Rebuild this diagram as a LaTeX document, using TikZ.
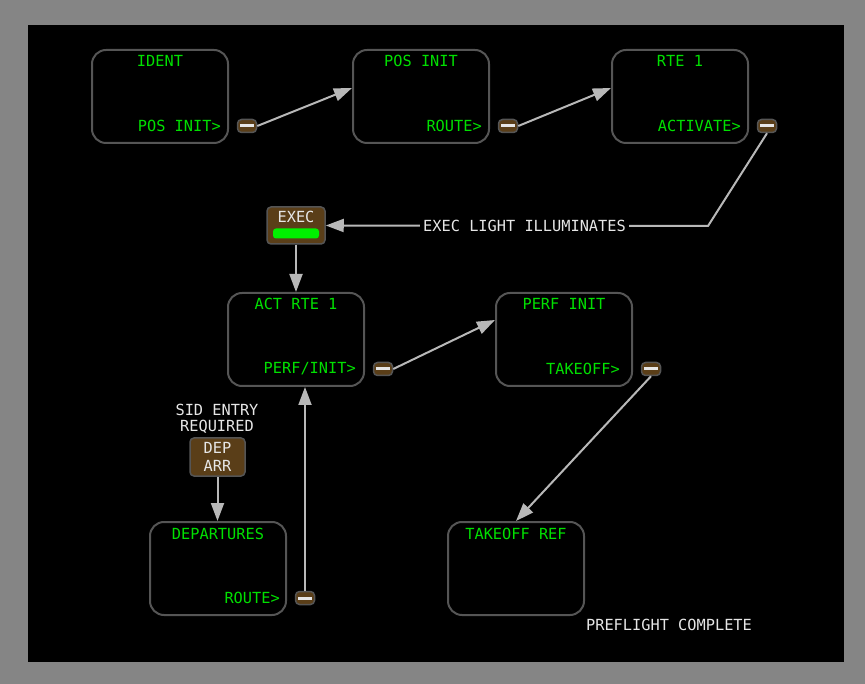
\documentclass[tikz,border=0pt]{standalone}
\usepackage{fontspec}
\setmonofont{DejaVu Sans Mono}
\usetikzlibrary{arrows.meta, positioning, calc}
\definecolor{cduGreen}{HTML}{00E000}
\definecolor{cduBrown}{HTML}{5A3E18}
\definecolor{cduFrame}{HTML}{555555}
\definecolor{cduLine}{HTML}{B8B8B8}
\definecolor{cduText}{HTML}{E6E6E6}
\definecolor{cduLamp}{HTML}{00F000}
\definecolor{bezel}{HTML}{858585}

\begin{document}
\begin{tikzpicture}[x=1pt, y=-1pt,
  page/.style={rectangle, draw=cduFrame, line width=2pt, rounded corners=14pt, minimum width=136pt, minimum height=93pt, inner sep=0pt},
  title/.style={text=cduGreen, font=\fontsize{15.3}{16}\selectfont\ttfamily, inner sep=0pt},
  prompt/.style={title, anchor=east},
  lsk/.style={rectangle, draw=cduFrame, fill=cduBrown, line width=1.5pt, rounded corners=4pt, minimum width=19pt, minimum height=13pt, inner sep=0pt, text=cduText},
  key/.style={rectangle, draw=cduFrame, fill=cduBrown, line width=1.5pt, rounded corners=4pt, inner sep=0pt},
  note/.style={text=cduText, font=\fontsize{15.3}{16}\selectfont\ttfamily, align=center, inner sep=0pt},
  link/.style={draw=cduLine, line width=2pt, -{Triangle[length=18pt, width=13pt]}}]

  % bezel and screen
  \fill[bezel] (0,0) rectangle (865,684);
  \fill[black] (28,25) rectangle (844,662);

  % IDENT
  \node[page] (ident) at (160,96.5) {};
  \node[title] (ident-t) at (160,61) {IDENT};
  \node[prompt] (ident-k) at (221,126) {POS INIT>};
  \node[lsk] (ident-b) at (247,126) {\rule{14pt}{3pt}};

  % POS INIT
  \node[page] (posinit) at (421,96.5) {};
  \node[title] (posinit-t) at (421,61) {POS INIT};
  \node[prompt] (posinit-k) at (482,126) {ROUTE>};
  \node[lsk] (posinit-b) at (508,126) {\rule{14pt}{3pt}};

  % RTE 1
  \node[page] (rte) at (680,96.5) {};
  \node[title] (rte-t) at (680,61) {RTE 1};
  \node[prompt] (rte-k) at (741,126) {ACTIVATE>};
  \node[lsk] (rte-b) at (767,126) {\rule{14pt}{3pt}};

  % EXEC key
  \node[key, minimum width=58pt, minimum height=37pt] (exec) at (296,225.5) {};
  \node[note] (exec-t) at (296,217) {EXEC};
  \node[rectangle, fill=cduLamp, rounded corners=3pt, minimum width=46pt, minimum height=10pt, inner sep=0pt] (exec-lamp) at (296,233.5) {};

  % ACT RTE 1
  \node[page] (actrte) at (296,339.5) {};
  \node[title] (actrte-t) at (296,304) {ACT RTE 1};
  \node[prompt] (actrte-k) at (356,369) {PERF/INIT>};
  \node[lsk] (actrte-b) at (383,369) {\rule{14pt}{3pt}};

  % PERF INIT
  \node[page] (perf) at (564,339.5) {};
  \node[title] (perf-t) at (564,304) {PERF INIT};
  \node[prompt] (perf-k) at (620,369) {TAKEOFF>};
  \node[lsk] (perf-b) at (651,369) {\rule{14pt}{3pt}};

  % DEP ARR key
  \node[note] (sidnote) at (217,419) {SID ENTRY\\REQUIRED};
  \node[key, minimum width=55pt, minimum height=38pt, text=cduText, align=center, font=\fontsize{15.3}{18}\selectfont\ttfamily] (deparr) at (217.5,457) {DEP\\ARR};

  % DEPARTURES
  \node[page] (dep) at (218,568.5) {};
  \node[title] (dep-t) at (218,534) {DEPARTURES};
  \node[prompt] (dep-k) at (280,598) {ROUTE>};
  \node[lsk] (dep-b) at (305,598) {\rule{14pt}{3pt}};

  % TAKEOFF REF
  \node[page] (toref) at (516,568.5) {};
  \node[title] (toref-t) at (516,534) {TAKEOFF REF};

  \node[note] (done) at (669,625) {PREFLIGHT COMPLETE};

  % connectors
  \coordinate (bend) at (708,226);
  \draw[link] (ident-b.east) -- ([yshift=8.5pt]posinit.west);
  \draw[link] (posinit-b.east) -- ([yshift=8.5pt]rte.west);
  \draw[link] (rte-b.south) -- (bend) -- node[note, pos=0.48, fill=black, inner sep=3pt] (execnote) {EXEC LIGHT ILLUMINATES} (exec.east);
  \draw[link] (exec.south) -- (actrte.north);
  \draw[link] (actrte-b.east) -- ([yshift=19.5pt]perf.west);
  \draw[link] (perf-b.south) -- (toref.north);
  \draw[link] (dep-b.north) -- ([xshift=9pt]actrte.south);
  \draw[link] (deparr.south) -- ([xshift=-0.5pt]dep.north);
\end{tikzpicture}
\end{document}
